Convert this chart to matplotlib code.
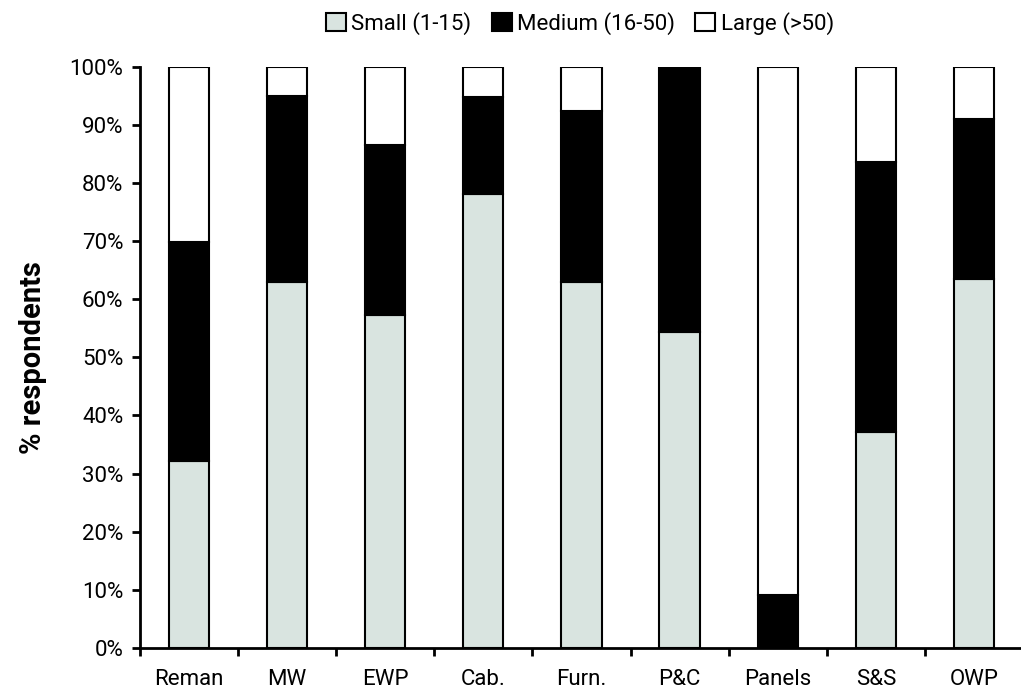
import numpy as np
import matplotlib.pyplot as plt
from matplotlib.ticker import FixedLocator, PercentFormatter

plt.rcParams['font.family'] = ['Roboto', 'DejaVu Sans']

# -----------------------------
# Data (% of respondents by company size)
# -----------------------------
categories = ["Reman", "MW", "EWP", "Cab.", "Furn.", "P&C", "Panels", "S&S", "OWP"]
small = np.array([32.2, 62.9, 57.2, 78.1, 62.9, 54.3, 0.0, 37.2, 63.5])
medium_top = np.array([69.8, 94.9, 86.6, 94.8, 92.3, 100.0, 9.1, 83.6, 91.0])
medium = medium_top - small
large = 100.0 - medium_top

series_labels = ["Small (1-15)", "Medium (16-50)", "Large (>50)"]
colors = ["#d9e4e0", "#000000", "#ffffff"]

# -----------------------------
# Plot
# -----------------------------
fig = plt.figure(figsize=(10.21, 6.98), dpi=100)
ax = fig.add_axes([0.137, 0.0716, 0.865, 0.833])

x = np.arange(len(categories))
width = 0.41
bottoms = np.zeros(len(categories))
for vals, lab, col in zip([small, medium, large], series_labels, colors):
    ax.bar(x, vals, width, bottom=bottoms, color=col, edgecolor="black",
           linewidth=1.5, label=lab)
    bottoms += vals

ax.set_xlim(-0.5, len(categories) - 0.5)
ax.set_ylim(0, 100)
ax.set_yticks(np.arange(0, 101, 10))
ax.yaxis.set_major_formatter(PercentFormatter(decimals=0))

ax.set_xticks(x)
ax.set_xticklabels(categories)
ax.xaxis.set_minor_locator(FixedLocator(np.arange(-0.5, len(categories), 1.0)))
ax.tick_params(axis="x", which="major", length=0, pad=15, labelsize=16)
ax.tick_params(axis="x", which="minor", length=6, width=2, direction="out")
ax.tick_params(axis="y", length=6, width=2, direction="out", labelsize=16, pad=6)

for side in ["top", "right"]:
    ax.spines[side].set_visible(False)
for side in ["left", "bottom"]:
    ax.spines[side].set_linewidth(2)

ax.set_ylabel("% respondents", fontsize=21, fontweight="bold", labelpad=16)

fig.legend(loc="upper center", bbox_to_anchor=(0.568, 1.012), ncol=3, frameon=False,
           fontsize=16, handlelength=0.9, handleheight=0.9, handletextpad=0.25,
           columnspacing=0.9)

fig.savefig("out.png", dpi=100)
